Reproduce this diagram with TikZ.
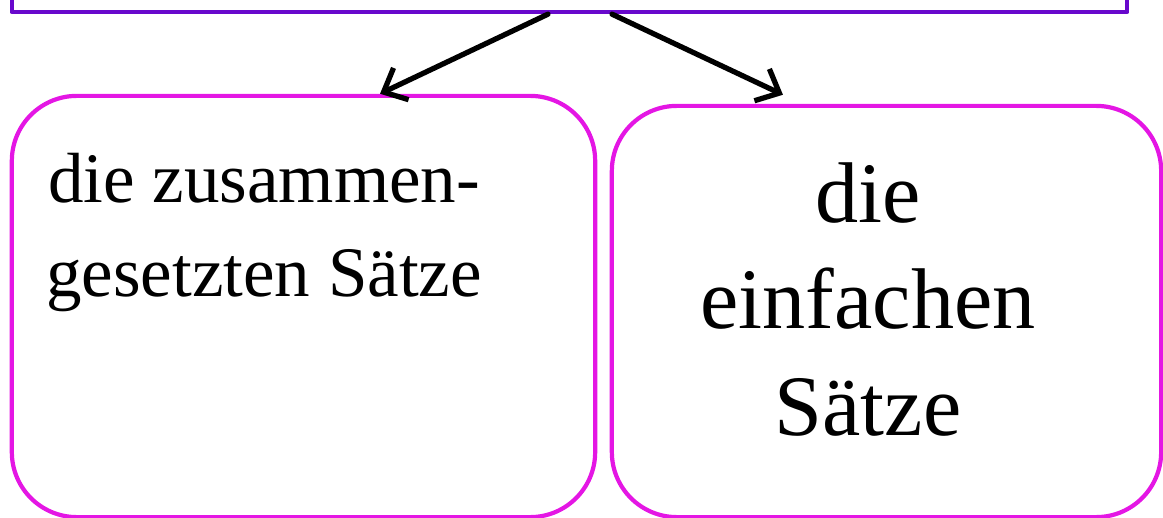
\documentclass[tikz,border=0pt]{standalone}
\usepackage{fontspec}
\setmainfont{Liberation Serif}
\usetikzlibrary{arrows.meta}
\definecolor{violetline}{RGB}{104,8,204}
\definecolor{magline}{RGB}{228,22,228}
\tikzset{
	topbox/.style={draw=violetline, line width=1.2pt, minimum width=11.15cm, minimum height=1.62cm},
	satzbox/.style={draw=magline, line width=1.2pt, rounded corners=0.65cm},
	lbl/.style={inner sep=0pt, align=center},
	arr/.style={line width=1.5pt, -{Straight Barb[length=5.5pt,width=10pt,line width=1.5pt]}}
}
\begin{document}
\begin{tikzpicture}[x=0.01cm, y=-0.01cm, line join=round, line cap=round]
	\useasboundingbox (0,0) rectangle (1163,518);
	% top box (cut off by the page)
	\node[topbox] (top) at (569.5,-69) {};
	% the two boxes
	\node[satzbox, minimum width=5.83cm, minimum height=4.21cm] (zus) at (303.5,306.5) {};
	\node[satzbox, minimum width=5.49cm, minimum height=4.11cm] (einf) at (886.5,311.5) {};
	% texts (base = last line)
	\node[lbl, anchor=base, font=\fontsize{20.2pt}{26.7pt}\selectfont] (zustext) at (264,296)
		{die zusammen-\\gesetzten Sätze};
	\node[lbl, anchor=base, font=\fontsize{24.5pt}{30.2pt}\selectfont] (einftext) at (868,435)
		{die\\einfachen\\Sätze};
	% arrows
	\draw[arr] ([xshift=-0.215cm]top.south) -- ([xshift=0.765cm]zus.north);
	\draw[arr] ([xshift=0.425cm]top.south) -- ([xshift=-1.035cm,yshift=0.09cm]einf.north);
\end{tikzpicture}
\end{document}
